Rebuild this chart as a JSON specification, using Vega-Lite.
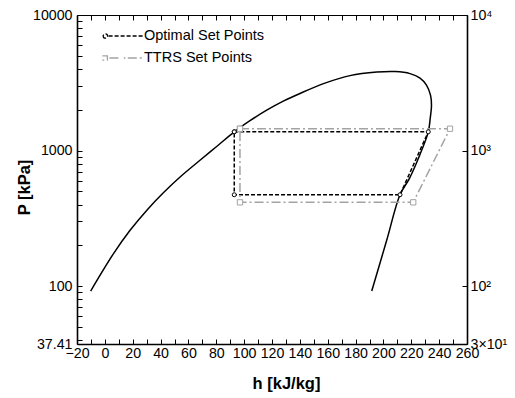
{
  "$schema": "https://vega.github.io/schema/vega-lite/v6.json",
  "width": 390,
  "height": 329,
  "autosize": {"type": "none"},
  "padding": {"left": 77, "top": 15, "right": 48, "bottom": 54},
  "background": "white",
  "datasets": {
    "dome": [
      {"i": 1, "h": -10.2, "P": 92}, {"i": 2, "h": 6.1, "P": 173}, {"i": 3, "h": 18.1, "P": 258},
      {"i": 4, "h": 30, "P": 362}, {"i": 5, "h": 42, "P": 488}, {"i": 6, "h": 54, "P": 638},
      {"i": 7, "h": 68.3, "P": 848}, {"i": 8, "h": 80.5, "P": 1076}, {"i": 9, "h": 92.9, "P": 1375},
      {"i": 10, "h": 104.2, "P": 1661}, {"i": 11, "h": 116.2, "P": 1986}, {"i": 12, "h": 128.1, "P": 2314},
      {"i": 13, "h": 140.1, "P": 2638}, {"i": 14, "h": 158, "P": 3144}, {"i": 15, "h": 176, "P": 3571},
      {"i": 16, "h": 195.2, "P": 3790}, {"i": 17, "h": 208.3, "P": 3823}, {"i": 18, "h": 219.1, "P": 3695},
      {"i": 19, "h": 226.3, "P": 3423}, {"i": 20, "h": 230.9, "P": 3038}, {"i": 21, "h": 233.8, "P": 2563},
      {"i": 22, "h": 234.5, "P": 2162}, {"i": 23, "h": 233.6, "P": 1733}, {"i": 24, "h": 232.2, "P": 1375},
      {"i": 25, "h": 225.5, "P": 897}, {"i": 26, "h": 218.7, "P": 624}, {"i": 27, "h": 211.9, "P": 472},
      {"i": 28, "h": 202.3, "P": 217}, {"i": 29, "h": 191.6, "P": 92}
    ],
    "cycle": [
      {"series": "Optimal Set Points", "k": 1, "h": 92.9, "P": 1375},
      {"series": "Optimal Set Points", "k": 2, "h": 232.2, "P": 1375},
      {"series": "Optimal Set Points", "k": 3, "h": 211.9, "P": 472},
      {"series": "Optimal Set Points", "k": 4, "h": 92.9, "P": 472},
      {"series": "Optimal Set Points", "k": 5, "h": 92.9, "P": 1375},
      {"series": "TTRS Set Points", "k": 1, "h": 97, "P": 1449},
      {"series": "TTRS Set Points", "k": 2, "h": 247.8, "P": 1449},
      {"series": "TTRS Set Points", "k": 3, "h": 221.4, "P": 415},
      {"series": "TTRS Set Points", "k": 4, "h": 97, "P": 415},
      {"series": "TTRS Set Points", "k": 5, "h": 97, "P": 1449}
    ]
  },
  "config": {
    "view": {"stroke": null},
    "axis": {
      "ticks": false,
      "grid": true,
      "gridColor": "black",
      "gridOpacity": 1,
      "gridWidth": 1,
      "gridDash": [5, 2000],
      "domain": true,
      "domainColor": "black",
      "domainWidth": 1.6,
      "labelFont": "Liberation Sans",
      "labelFontSize": 14.2,
      "labelColor": "black",
      "labelFlush": false,
      "labelOverlap": false,
      "titleFont": "Liberation Sans",
      "titleFontSize": 16.5,
      "titleFontWeight": "bold",
      "titleColor": "black"
    }
  },
  "layer": [
    {
      "data": {"name": "dome"},
      "mark": {"type": "line", "color": "black", "strokeWidth": 1.5, "interpolate": "catmull-rom"},
      "encoding": {
        "x": {
          "field": "h", "type": "quantitative",
          "scale": {"domain": [-20, 260], "nice": false, "zero": false},
          "axis": {
            "orient": "bottom",
            "grid": true,
            "gridDash": [5, 2000],
            "gridColor": "black",
            "ticks": false,
            "title": "h [kJ/kg]",
            "titleX": 209,
            "titleY": 31,
            "values": [-20,-10,0,10,20,30,40,50,60,70,80,90,100,110,120,130,140,150,160,170,180,190,200,210,220,230,240,250,260],
            "labelExpr": "datum.value % 20 === 0 ? datum.label : ''",
            "labelPadding": 2
          }
        },
        "y": {
          "field": "P", "type": "quantitative",
          "scale": {"type": "log", "domain": [37.41, 10000], "nice": false},
          "axis": {
            "orient": "left",
            "grid": true,
            "gridDash": [5, 2000],
            "gridColor": "black",
            "ticks": false,
            "title": "P [kPa]",
            "titleX": -45,
            "titleY": 172,
            "values": [37.41,40,50,60,70,80,90,100,200,300,400,500,600,700,800,900,1000,2000,3000,4000,5000,6000,7000,8000,9000,10000],
            "labelExpr": "datum.value == 10000 ? '10000' : datum.value == 1000 ? '1000' : datum.value == 100 ? '100' : datum.value == 37.41 ? '37.41' : ''",
            "labelPadding": 5
          }
        },
        "order": {"field": "i", "type": "quantitative"}
      }
    },
    {
      "data": {"name": "cycle"},
      "mark": {"type": "line", "strokeWidth": 1.5},
      "encoding": {
        "x": {
          "field": "h", "type": "quantitative",
          "axis": {
            "orient": "top",
            "grid": true,
            "gridDash": [5, 2000],
            "gridColor": "black",
            "ticks": false,
            "domainWidth": 1.2,
            "title": null,
            "labels": false,
            "values": [-20,-10,0,10,20,30,40,50,60,70,80,90,100,110,120,130,140,150,160,170,180,190,200,210,220,230,240,250,260]
          }
        },
        "y": {
          "field": "P", "type": "quantitative",
          "axis": {
            "orient": "right",
            "grid": true,
            "gridDash": [5, 2000],
            "gridColor": "black",
            "ticks": false,
            "title": null,
            "values": [37.41, 100, 1000, 10000],
            "labelExpr": "datum.value == 10000 ? '10⁴' : datum.value == 1000 ? '10³' : datum.value == 100 ? '10²' : '3×10¹'",
            "labelPadding": 3
          }
        },
        "order": {"field": "k", "type": "quantitative"},
        "color": {
          "field": "series", "type": "nominal",
          "scale": {"domain": ["Optimal Set Points", "TTRS Set Points"], "range": ["black", "#a3a3a3"]},
          "legend": {
            "orient": "none",
            "legendX": 25,
            "legendY": 13,
            "title": null,
            "padding": 0,
            "symbolSize": 1600,
            "clipHeight": 16,
            "rowPadding": 6,
            "labelOffset": 0,
            "labelFont": "Liberation Sans",
            "labelFontSize": 14.5,
            "labelColor": "black",
            "labelLimit": 300,
            "symbolStrokeWidth": 1.3,
            "encode": {
              "symbols": {
                "update": {
                  "shape": {"signal": "datum.value === 'Optimal Set Points' ? 'M-0.99,0A0.11,0.11,0,1,0,-0.77,0A0.11,0.11,0,1,0,-0.99,0M-0.72,0H-0.52M-0.42,0H-0.22M-0.12,0H0.08M0.18,0H0.38M0.48,0H0.68M0.78,0H0.98' : 'M-1,-0.11H-0.78V0.11H-1ZM-0.68,0H-0.08M0.04,0H0.12M0.24,0H0.98'"},
                  "fill": {"value": "white"},
                  "fillOpacity": {"value": 1},
                  "strokeDash": {"value": []}
                }
              }
            }
          }
        },
        "strokeDash": {
          "field": "series", "type": "nominal",
          "scale": {"domain": ["Optimal Set Points", "TTRS Set Points"], "range": [[4, 2], [9, 3, 2, 3]]},
          "legend": null
        }
      }
    },
    {
      "data": {"name": "cycle"},
      "transform": [{"filter": "datum.series === 'Optimal Set Points'"}],
      "mark": {"type": "point", "shape": "circle", "filled": true, "fill": "white", "stroke": "black", "strokeWidth": 1, "size": 16, "opacity": 1},
      "encoding": {
        "x": {"field": "h", "type": "quantitative", "axis": null},
        "y": {"field": "P", "type": "quantitative", "axis": null}
      }
    },
    {
      "data": {"name": "cycle"},
      "transform": [{"filter": "datum.series === 'TTRS Set Points'"}],
      "mark": {"type": "point", "shape": "square", "filled": true, "fill": "white", "stroke": "#a3a3a3", "strokeWidth": 1, "size": 28, "opacity": 1},
      "encoding": {
        "x": {"field": "h", "type": "quantitative", "axis": null},
        "y": {"field": "P", "type": "quantitative", "axis": null}
      }
    }
  ],
  "resolve": {"axis": {"x": "independent", "y": "independent"}}
}
